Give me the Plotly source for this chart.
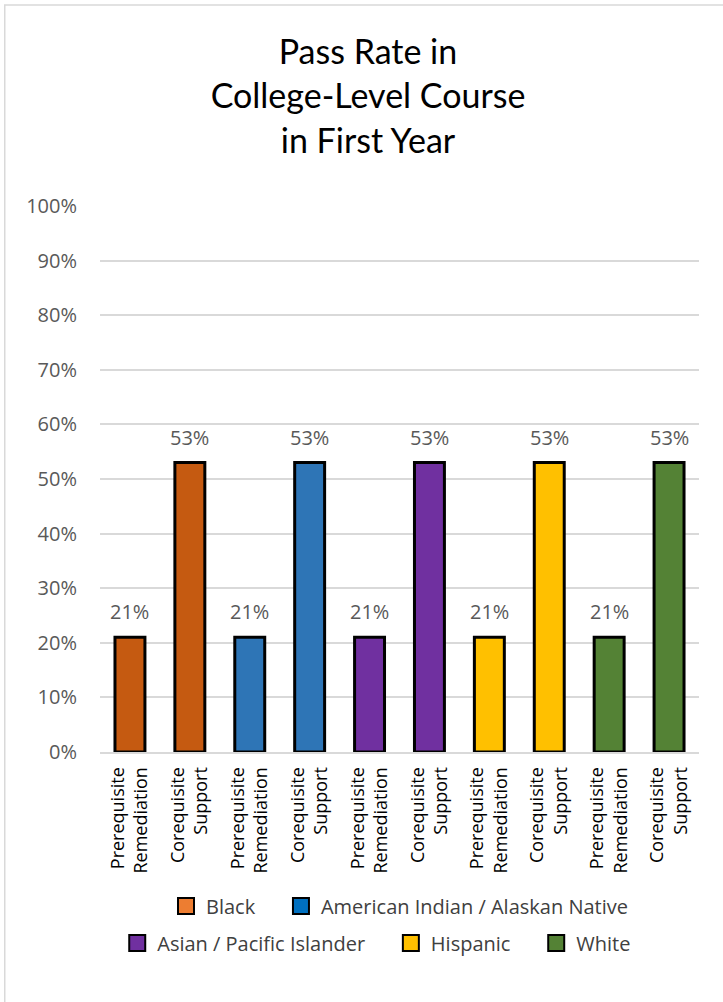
import plotly.graph_objects as go

# Pass rates (%) for each group under the two placement approaches
groups = ["Black", "American Indian / Alaskan Native", "Asian / Pacific Islander", "Hispanic", "White"]
approaches = ["Prerequisite<br>Remediation", "Corequisite<br>Support"]
pass_rates = {
    "Black": [21, 53],
    "American Indian / Alaskan Native": [21, 53],
    "Asian / Pacific Islander": [21, 53],
    "Hispanic": [21, 53],
    "White": [21, 53],
}
bar_colors = ["#C55A11", "#2E75B6", "#7030A0", "#FFC000", "#548235"]
legend_colors = ["#ED7D31", "#0070C0", "#7030A0", "#FFC000", "#548235"]
legend_rows = [["Black", "American Indian / Alaskan Native"],
               ["Asian / Pacific Islander", "Hispanic", "White"]]

TITLE_FONT = "Lato"
FONT = "Open Sans"
PAD = "\u00a0" * 4  # extra space between legend entries in a row
fig = go.Figure()

tickvals, ticktext = [], []
annotations = []
for gi, g in enumerate(groups):
    xs = [gi * len(approaches) + k for k in range(len(approaches))]
    ys = pass_rates[g]
    tickvals += xs
    ticktext += approaches
    fig.add_trace(go.Bar(
        x=xs, y=ys, width=0.5, showlegend=False,
        marker=dict(color=bar_colors[gi], line=dict(color="#000000", width=3)),
        hoverinfo="skip",
    ))
    for x, y in zip(xs, ys):
        annotations.append(dict(
            x=x, y=y, xref="x", yref="y", text=f"{y}%", showarrow=False,
            yanchor="bottom", yshift=10,
            font=dict(family=FONT, size=20, color="#595959"),
        ))

# Legend entries, split over two centred rows
for ri, row in enumerate(legend_rows):
    for k, g in enumerate(row):
        gi = groups.index(g)
        label = g if k == len(row) - 1 else g + PAD
        fig.add_trace(go.Scatter(
            x=[None], y=[None], mode="markers", name=label,
            legend="legend" if ri == 0 else "legend2",
            marker=dict(symbol="square", size=16, color=legend_colors[gi],
                        line=dict(color="#000000", width=2)),
        ))

fig.update_layout(
    width=723, height=1002,
    margin=dict(l=100, r=24, t=206, b=250),
    paper_bgcolor="#FFFFFF", plot_bgcolor="#FFFFFF",
    barmode="overlay",
    font=dict(family=FONT, color="#404040"),
    title=dict(
        text="Pass Rate in<br>College-Level Course<br>in First Year",
        x=0.509, xref="container", xanchor="center",
        y=0.936, yref="container", yanchor="top",
        font=dict(family=TITLE_FONT, size=34, color="#000000"),
    ),
    xaxis=dict(
        range=[-0.5, len(tickvals) - 0.5],
        tickmode="array", tickvals=tickvals, ticktext=ticktext,
        tickangle=-90, ticks="", ticklabelstandoff=6,
        tickfont=dict(family=FONT, size=18, color="#000000"),
        showgrid=False, zeroline=False,
        showline=True, linecolor="#D9D9D9", linewidth=2,
    ),
    yaxis=dict(
        range=[0, 100], dtick=10, ticksuffix="%",
        tickfont=dict(family=FONT, size=20, color="#595959"),
        ticklabelstandoff=22,
        showgrid=True, gridcolor="#D9D9D9", gridwidth=2,
        zeroline=False, showline=False,
    ),
    legend=dict(
        orientation="h", x=0.50, xanchor="center", y=-0.282, yanchor="middle",
        font=dict(family=FONT, size=20, color="#404040"),
        itemsizing="trace", bgcolor="rgba(0,0,0,0)",
    ),
    legend2=dict(
        orientation="h", x=0.462, xanchor="center", y=-0.35, yanchor="middle",
        font=dict(family=FONT, size=20, color="#404040"),
        itemsizing="trace", bgcolor="rgba(0,0,0,0)",
    ),
    annotations=annotations,
    shapes=[dict(
        type="path", xref="paper", yref="paper",
        path="M -0.159 -0.6 L -0.159 1.368 L 1.1 1.368",
        line=dict(color="#D9D9D9", width=1.5),
    )],
)

fig.write_html("out.html")
